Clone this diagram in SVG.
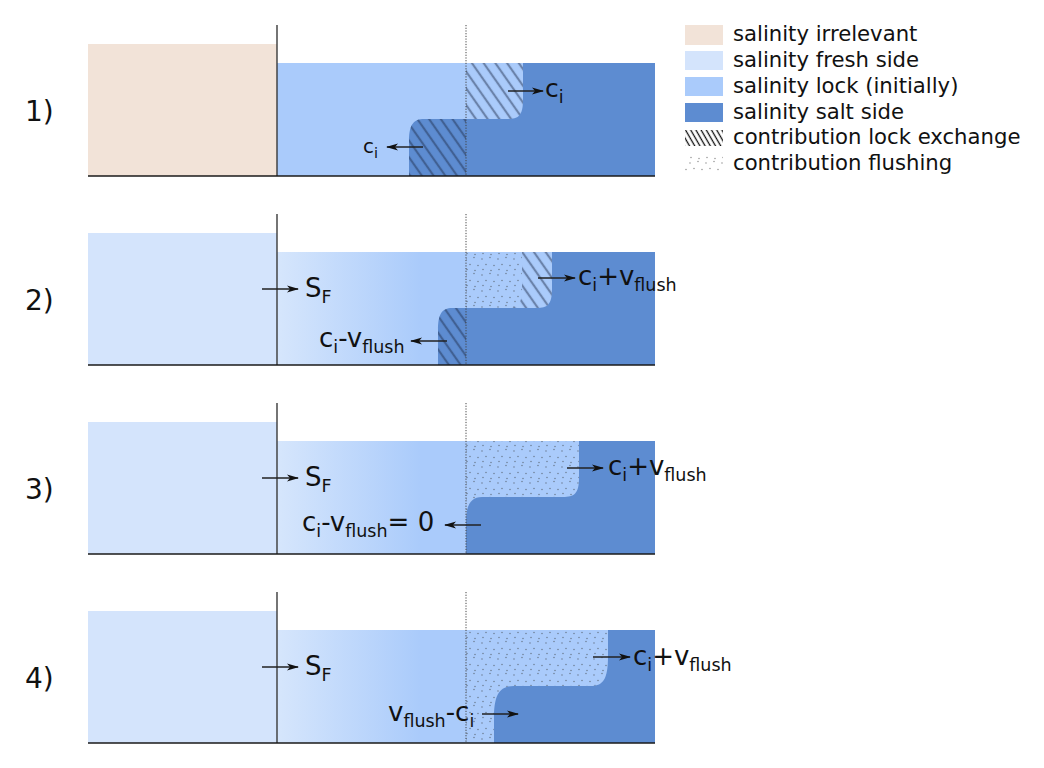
<svg xmlns="http://www.w3.org/2000/svg" width="1044" height="768" viewBox="0 0 1044 768">
<style>
 text{font-family:"DejaVu Sans","Liberation Sans",sans-serif;fill:#111}
 .lbl{font-size:26px}
 .sm{font-size:20px}
 .sub{font-size:17.5px}
 .subsm{font-size:14.5px}
 .num{font-size:28px}
 .leg{font-size:21.2px}
 .irr{fill:#f2e3d8}
 .fresh{fill:#d4e4fc}
 .lock{fill:#aacbfb}
 .lockg{fill:url(#lockgrad)}
 .salt{fill:#5d8cd1}
 .hatch{fill:url(#hatch)}
 .dots{fill:url(#dots)}
 .wall{stroke:#3a3a3a;stroke-width:1.4}
 .bed{stroke:#1a1a1a;stroke-width:1.6}
 .door{stroke:#444;stroke-width:1;stroke-dasharray:1.2 1.5}
 .arr{stroke:#222;stroke-width:1.3;fill:none;marker-end:url(#ah)}
</style>
<defs>
 <marker id="ah" viewBox="0 0 12 8" refX="11" refY="4" markerWidth="12" markerHeight="8" markerUnits="userSpaceOnUse" orient="auto"><path d="M0,0.5 L12,4 L0,7.5 L3,4 Z" fill="#111"/></marker>
 <pattern id="hatch" patternUnits="userSpaceOnUse" width="9.6" height="20" patternTransform="rotate(-35)"><line x1="4.8" y1="-1" x2="4.8" y2="21" stroke="#1c2a48" stroke-opacity="0.45" stroke-width="2.2"/></pattern>
 <pattern id="leghatch" patternUnits="userSpaceOnUse" width="4.5" height="20" patternTransform="rotate(-30)"><line x1="2.2" y1="-1" x2="2.2" y2="21" stroke="#111" stroke-width="1.3"/></pattern>
 <pattern id="dots" patternUnits="userSpaceOnUse" width="16" height="16">
  <circle cx="2" cy="3" r="0.7" fill="#333" fill-opacity="0.6"/>
  <circle cx="10" cy="1.5" r="0.7" fill="#333" fill-opacity="0.6"/>
  <circle cx="6" cy="8.5" r="0.7" fill="#333" fill-opacity="0.6"/>
  <circle cx="14" cy="9.5" r="0.7" fill="#333" fill-opacity="0.6"/>
  <circle cx="3" cy="13.5" r="0.7" fill="#333" fill-opacity="0.6"/>
  <circle cx="11" cy="14.5" r="0.7" fill="#333" fill-opacity="0.6"/>
 </pattern>
 <linearGradient id="lockgrad" gradientUnits="userSpaceOnUse" x1="277" y1="0" x2="420" y2="0"><stop offset="0" stop-color="#d6e6fc"/><stop offset="1" stop-color="#aacbfb"/></linearGradient>
</defs>
<rect width="1044" height="768" fill="#fff"/>

<g id="panel1">
 <rect class="irr" x="88" y="44" width="189" height="132"/>
 <rect class="lock" x="277" y="63" width="378" height="113"/>
 <path class="salt" d="M655,63 H523 V100 C523,116 518,119 508,119 H424 C414,119 409,124 409,141 V176 H655 Z"/>
 <path class="hatch" d="M466,63 H523 V100 C523,116 518,119 508,119 H466 Z"/>
 <path class="hatch" d="M424,119 H466 V176 H409 V141 C409,124 414,119 424,119 Z"/>
 <line class="wall" x1="277" y1="25" x2="277" y2="176"/>
 <line class="door" x1="466" y1="25" x2="466" y2="176"/>
 <line class="bed" x1="88" y1="176" x2="655" y2="176"/>
 <text class="num" x="25" y="121">1)</text>
</g>

<g id="panel2">
 <rect class="fresh" x="88" y="233" width="189" height="132"/>
 <rect class="lockg" x="277" y="252" width="378" height="113"/>
 <path class="salt" d="M655,252 H552 V289 C552,305 547,308 537,308 H452 C442,308 438,314 438,330 V365 H655 Z"/>
 <path class="dots" d="M466,252 H522 V289 C522,305 517,308 507,308 H466 Z"/>
 <path class="hatch" d="M522,252 H552 V289 C552,305 547,308 537,308 H507 C517,308 522,305 522,289 Z"/>
 <path class="hatch" d="M452,308 H466 V365 H438 V330 C438,314 442,308 452,308 Z"/>
 <line class="wall" x1="277" y1="214" x2="277" y2="365"/>
 <line class="door" x1="466" y1="214" x2="466" y2="365"/>
 <line class="bed" x1="88" y1="365" x2="655" y2="365"/>
 <text class="num" x="25" y="310">2)</text>
</g>

<g id="panel3">
 <rect class="fresh" x="88" y="422" width="189" height="132"/>
 <rect class="lockg" x="277" y="441" width="378" height="113"/>
 <path class="salt" d="M655,441 H579 V478 C579,494 574,497 563,497 H482 C471,497 466,505 466,522 V554 H655 Z"/>
 <path class="dots" d="M466,441 H579 V478 C579,494 574,497 563,497 H482 C471,497 466,505 466,522 Z"/>
 <line class="wall" x1="277" y1="403" x2="277" y2="554"/>
 <line class="door" x1="466" y1="403" x2="466" y2="554"/>
 <line class="bed" x1="88" y1="554" x2="655" y2="554"/>
 <text class="num" x="25" y="499">3)</text>
</g>

<g id="panel4">
 <rect class="fresh" x="88" y="611" width="189" height="132"/>
 <rect class="lockg" x="277" y="630" width="378" height="113"/>
 <path class="salt" d="M655,630 H608 V656 C608,680 603,686 590,686 H514 C500,686 494,694 494,718 V743 H655 Z"/>
 <path class="dots" d="M466,630 H608 V656 C608,680 603,686 590,686 H514 C500,686 494,694 494,718 V743 H466 Z"/>
 <line class="wall" x1="277" y1="592" x2="277" y2="743"/>
 <line class="door" x1="466" y1="592" x2="466" y2="743"/>
 <line class="bed" x1="88" y1="743" x2="655" y2="743"/>
 <text class="num" x="25" y="688">4)</text>
</g>

<g id="connectors">
 <path class="arr" d="M508,91 H543"/>
 <path class="arr" d="M423,147 H387"/>
 <path class="arr" d="M262,289 H298"/>
 <path class="arr" d="M538,278 H575"/>
 <path class="arr" d="M447,341 H411"/>
 <path class="arr" d="M262,478 H298"/>
 <path class="arr" d="M567,468 H603"/>
 <path class="arr" d="M481,525 H445"/>
 <path class="arr" d="M262,667 H298"/>
 <path class="arr" d="M593,657 H630"/>
 <path class="arr" d="M482,714 H518"/>
</g>

<g id="labels">
 <text class="lbl" x="545" y="97" style="font-size:25px">c<tspan class="sub" dy="6">i</tspan></text>
 <text class="sm" x="363" y="153">c<tspan class="subsm" dy="5">i</tspan></text>
 <text class="lbl" x="305" y="297">S<tspan class="sub" dy="6">F</tspan></text>
 <text class="lbl" x="578" y="285">c<tspan class="sub" dy="6">i</tspan><tspan dy="-6">+v</tspan><tspan class="sub" dy="6">flush</tspan></text>
 <text class="lbl" x="319" y="347">c<tspan class="sub" dy="6">i</tspan><tspan dy="-6">-v</tspan><tspan class="sub" dy="6">flush</tspan></text>
 <text class="lbl" x="305" y="486">S<tspan class="sub" dy="6">F</tspan></text>
 <text class="lbl" x="608" y="475">c<tspan class="sub" dy="6">i</tspan><tspan dy="-6">+v</tspan><tspan class="sub" dy="6">flush</tspan></text>
 <text class="lbl" x="302" y="531">c<tspan class="sub" dy="6">i</tspan><tspan dy="-6">-v</tspan><tspan class="sub" dy="6">flush</tspan><tspan dy="-6">= 0</tspan></text>
 <text class="lbl" x="305" y="675">S<tspan class="sub" dy="6">F</tspan></text>
 <text class="lbl" x="633" y="665">c<tspan class="sub" dy="6">i</tspan><tspan dy="-6">+v</tspan><tspan class="sub" dy="6">flush</tspan></text>
 <text class="lbl" x="388" y="721">v<tspan class="sub" dy="6">flush</tspan><tspan dy="-6">-c</tspan><tspan class="sub" dy="6">i</tspan></text>
</g>

<g id="legend">
 <rect class="irr" x="685" y="25" width="38" height="20"/>
 <rect class="fresh" x="685" y="51" width="38" height="19"/>
 <rect class="lock" x="685" y="77" width="38" height="19"/>
 <rect class="salt" x="685" y="103" width="38" height="19"/>
 <rect fill="url(#leghatch)" x="685" y="130" width="38" height="16"/>
 <rect class="dots" x="685" y="155" width="38" height="17"/>
 <text class="leg" x="733" y="41">salinity irrelevant</text>
 <text class="leg" x="733" y="67">salinity fresh side</text>
 <text class="leg" x="733" y="93">salinity lock (initially)</text>
 <text class="leg" x="733" y="119">salinity salt side</text>
 <text class="leg" x="733" y="144">contribution lock exchange</text>
 <text class="leg" x="733" y="170">contribution flushing</text>
</g>
</svg>
